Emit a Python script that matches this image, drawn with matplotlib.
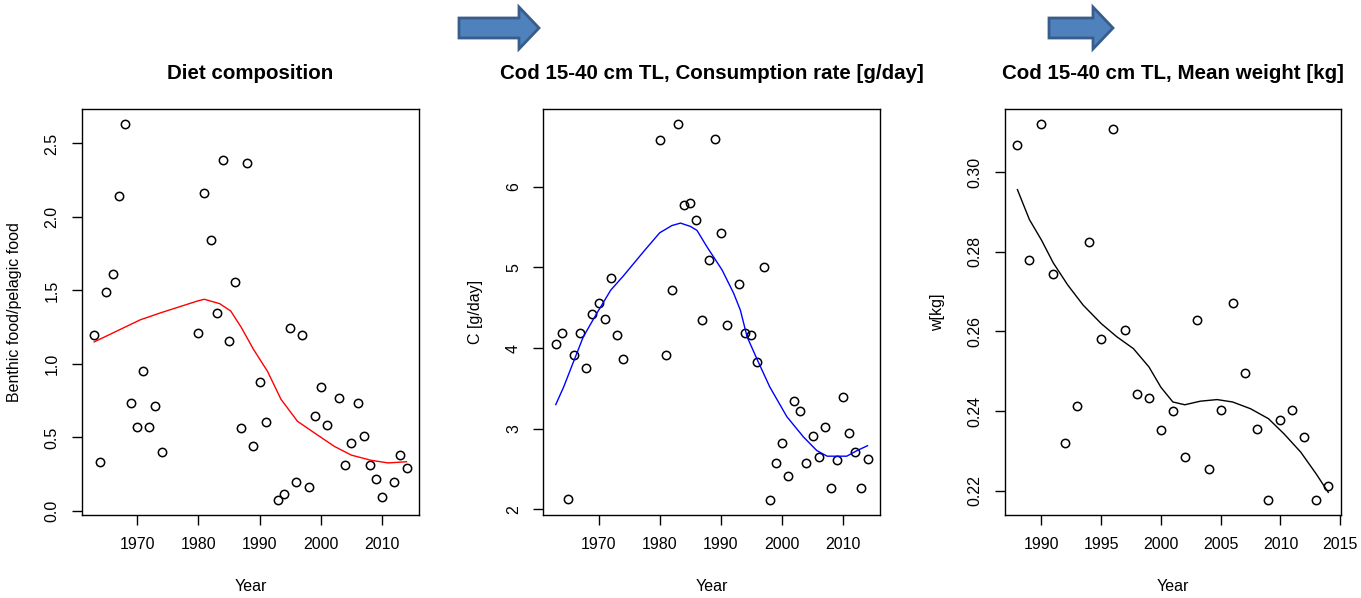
#!/usr/bin/env python3
"""Cod diet / consumption / mean weight - three panel figure"""

import numpy as np
import matplotlib
matplotlib.use('Agg')
import matplotlib.pyplot as plt
from matplotlib.patches import Polygon
from matplotlib.ticker import FormatStrFormatter

plt.rcParams['font.family'] = ['Liberation Sans', 'DejaVu Sans']

# === DATA ===
# Panel A: diet composition (benthic/pelagic ratio)
years_diet = [1963, 1964, 1965, 1966, 1967, 1968, 1969, 1970, 1971, 1972, 1973, 1974,
              1980, 1981, 1982, 1983, 1984, 1985, 1986, 1987, 1988, 1989, 1990, 1991,
              1993, 1994, 1995, 1996, 1997, 1998, 1999, 2000, 2001,
              2003, 2004, 2005, 2006, 2007, 2008, 2009, 2010,
              2012, 2013, 2014]
diet_ratio = [1.20, 0.334, 1.49, 1.61, 2.14, 2.63, 0.735, 0.573, 0.953, 0.573, 0.714, 0.40,
              1.21, 2.16, 1.84, 1.344, 2.39, 1.158, 1.56, 0.564, 2.37, 0.443, 0.876, 0.605,
              0.075, 0.119, 1.244, 0.196, 1.20, 0.162, 0.648, 0.844, 0.585,
              0.769, 0.314, 0.464, 0.735, 0.51, 0.314, 0.216, 0.098,
              0.196, 0.38, 0.293]
diet_smooth_x = [1963, 1966, 1968, 1970.5, 1974, 1977, 1980, 1981, 1983.5, 1985.3, 1987,
                 1989, 1991.3, 1993.5, 1996.2, 1999, 2002.2, 2005, 2008.2, 2011, 2014]
diet_smooth_y = [1.15, 1.21, 1.25, 1.30, 1.35, 1.39, 1.43, 1.44, 1.41, 1.36, 1.25,
                 1.10, 0.95, 0.76, 0.61, 0.53, 0.44, 0.38, 0.345, 0.327, 0.335]

# Panel B: consumption rate [g/day]
years_cons = (list(range(1963, 1975)) + list(range(1980, 1992)) + list(range(1993, 2015)))
cons_rate = [4.05, 4.19, 2.13, 3.91, 4.19, 3.75, 4.42, 4.56, 4.365, 4.875, 4.165, 3.87,
             6.576, 3.91, 4.72, 6.775, 5.78, 5.80, 5.585, 4.345, 5.095, 6.59, 5.43, 4.286,
             4.80, 4.19, 4.165, 3.83, 5.0, 2.117, 2.57, 2.826, 2.41, 3.34, 3.22, 2.57,
             2.905, 2.647, 3.025, 2.27, 2.61, 3.40, 2.946, 2.71, 2.27, 2.63]
cons_smooth_x = [1963, 1964.3, 1966, 1967.5, 1969.7, 1972, 1974, 1977.4, 1980, 1982, 1983.4,
                 1985, 1986.1, 1987.7, 1990.2, 1992.1, 1993.2, 1994.3, 1996, 1998, 2000.8,
                 2003.5, 2005.7, 2007.4, 2010.6, 2012.3, 2014]
cons_smooth_y = [3.30, 3.52, 3.85, 4.14, 4.43, 4.72, 4.89, 5.20, 5.43, 5.52, 5.55,
                 5.51, 5.46, 5.26, 4.97, 4.68, 4.47, 4.14, 3.85, 3.52, 3.15,
                 2.90, 2.73, 2.66, 2.66, 2.73, 2.79]

# Panel C: mean weight [kg]
years_wt = list(range(1988, 2015))
mean_wt = [0.3067, 0.2779, 0.312, 0.2744, 0.2320, 0.2412, 0.2824, 0.2580, 0.3108, 0.2603,
           0.2444, 0.2432, 0.2352, 0.2400, 0.2284, 0.2628, 0.2256, 0.2404, 0.2672, 0.2496,
           0.2356, 0.2177, 0.2377, 0.2404, 0.2336, 0.2177, 0.2212]
wt_smooth_x = [1988, 1989, 1990, 1991, 1992.2, 1993.5, 1995, 1996.3, 1997.7, 1999, 2000,
               2001, 2002, 2003.3, 2004.7, 2006, 2007.5, 2009, 2010.3, 2011.7, 2013, 2014]
wt_smooth_y = [0.2956, 0.2881, 0.2830, 0.2772, 0.2717, 0.2666, 0.2620, 0.2587, 0.2557, 0.2511,
               0.2460, 0.2423, 0.2416, 0.2425, 0.2429, 0.2423, 0.2406, 0.2381, 0.2343,
               0.2297, 0.2242, 0.2196]

panels = [
    dict(x=years_diet, y=diet_ratio, sx=diet_smooth_x, sy=diet_smooth_y, col='#ff0000',
         title='Diet composition', ylab='Benthic food/pelagic food',
         xt=np.arange(1970, 2011, 10), yt=np.arange(0, 2.51, 0.5), fmt='%.1f'),
    dict(x=years_cons, y=cons_rate, sx=cons_smooth_x, sy=cons_smooth_y, col='#0000ff',
         title='Cod 15-40 cm TL, Consumption rate [g/day]', ylab='C [g/day]',
         xt=np.arange(1970, 2011, 10), yt=np.arange(2, 7, 1), fmt='%d'),
    dict(x=years_wt, y=mean_wt, sx=wt_smooth_x, sy=wt_smooth_y, col='black',
         title='Cod 15-40 cm TL, Mean weight [kg]', ylab='w[kg]',
         xt=np.arange(1990, 2016, 5), yt=np.arange(0.22, 0.301, 0.02), fmt='%.2f'),
]

# === FIGURE ===
W, H = 1361, 598
fig = plt.figure(figsize=(W / 100, H / 100), dpi=100)
lefts = [81.7, 543.3, 1005]
rights = [419, 880, 1340.7]
top_px, bot_px = 109.3, 515

for p, l, r in zip(panels, lefts, rights):
    ax = fig.add_axes([l / W, 1 - bot_px / H, (r - l) / W, (bot_px - top_px) / H])
    ax.plot(p['x'], p['y'], 'o', mfc='none', mec='black', ms=6, mew=1.1)
    ax.plot(p['sx'], p['sy'], '-', color=p['col'], lw=1.0)
    ax.margins(x=0.04, y=0.04)
    ax.set_xticks(p['xt'])
    ax.set_yticks(p['yt'])
    ax.yaxis.set_major_formatter(FormatStrFormatter(p['fmt']))
    ax.tick_params(length=7, width=1, labelsize=11.5, pad=9)
    for lab in ax.get_yticklabels():
        lab.set_rotation(90)
        lab.set_va('center')
    for s in ax.spines.values():
        s.set_linewidth(1.0)
    ax.set_title(p['title'], fontsize=14.8, fontweight='bold', pad=22)
    ax.set_xlabel('Year', fontsize=11.5)
    ax.set_ylabel(p['ylab'], fontsize=11.5)
    ax.xaxis.set_label_coords(0.5, -(579 - bot_px) / (bot_px - top_px))
    ax.yaxis.set_label_coords(-60 / (r - l), 0.5)

# block arrows between panels
def block_arrow(x0, x1, x2):
    pts = [(x0, 18), (x1, 18), (x1, 7), (x2, 28), (x1, 49), (x1, 38), (x0, 38)]
    pts = [(x / W, 1 - y / H) for x, y in pts]
    fig.patches.append(Polygon(pts, closed=True, transform=fig.transFigure,
                               facecolor='#4f81bd', edgecolor='#385d8a', lw=2))

block_arrow(459, 519, 539)
block_arrow(1049, 1093, 1113)

fig.savefig('out.png', dpi=100, facecolor='white')
